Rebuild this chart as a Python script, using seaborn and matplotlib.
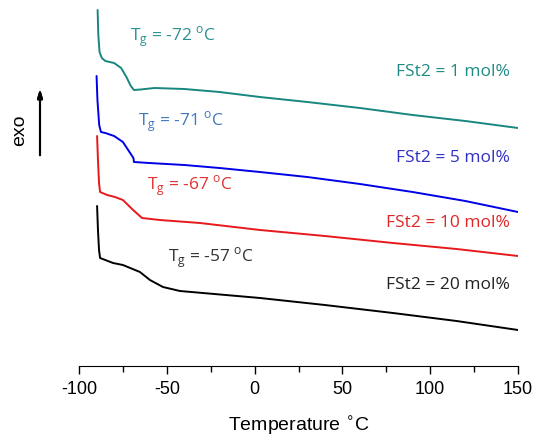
import numpy as np
import pandas as pd
import matplotlib.pyplot as plt
import seaborn as sns

# DSC traces (temperature in C, heat flow in arbitrary units, offset per sample)
t_1 = [-89.4, -89, -88.3, -87, -85, -80, -76, -73, -70.5, -68.7, -65, -57, -40, -20, 3, 30, 60, 90, 120, 150]
hf_1 = [356, 331, 314, 308, 305, 303, 298, 289, 280, 276, 276.5, 278, 277, 274, 269, 264, 258, 251, 245, 238]

t_5 = [-90, -89.5, -88.5, -87.5, -85, -80, -75, -72, -69, -68.7, -60, -40, -20, 3, 30, 60, 90, 120, 150]
hf_5 = [290, 266, 241, 234, 233, 230, 224, 216, 208, 204, 203, 201, 198, 194, 189, 182, 174, 165, 154]

t_10 = [-89.7, -89.2, -88.6, -88, -84, -79.5, -75, -69.2, -64.1, -53.9, -31.1, 3.1, 40, 78.8, 115, 150]
hf_10 = [230, 206, 183, 174, 171, 169, 166, 156, 148, 146, 143, 136, 130, 123, 117, 110]

t_20 = [-89.7, -89.2, -88.6, -88, -80.6, -75, -65.3, -59.6, -52.2, -42.5, 3.1, 40, 78.8, 115, 150]
hf_20 = [160, 136, 116, 108, 103, 101, 94, 86, 79, 75, 68, 61, 53, 45, 36]

samples = ["FSt2 = 1 mol%", "FSt2 = 5 mol%", "FSt2 = 10 mol%", "FSt2 = 20 mol%"]
tg_labels = ["-72", "-71", "-67", "-57"]
line_colors = ["#17877f", "#0000e6", "#e8191c", "#000000"]
tg_colors = ["#2a9090", "#3f78c0", "#e03232", "#333333"]
name_colors = ["#1f8a84", "#2f2fc8", "#e02525", "#222222"]

frames = []
for name, t, hf in zip(samples, [t_1, t_5, t_10, t_20], [hf_1, hf_5, hf_10, hf_20]):
    frames.append(pd.DataFrame({"T": t, "hf": hf, "sample": name}))
df = pd.concat(frames)

sns.set_style("ticks")
plt.rcParams["font.family"] = ["Liberation Sans", "DejaVu Sans"]
plt.rcParams["axes.unicode_minus"] = False
plt.rcParams["text.color"] = "black"
plt.rcParams["xtick.color"] = "black"
plt.rcParams["axes.labelcolor"] = "black"
plt.rcParams["axes.edgecolor"] = "black"

fig = plt.figure(figsize=(5.37, 4.43), dpi=100)
ax = fig.add_axes([79 / 537, 1 - 366 / 443, (518 - 79) / 537, 366 / 443])

sns.lineplot(data=df, x="T", y="hf", hue="sample", palette=line_colors,
             sort=False, estimator=None, linewidth=1.4, legend=False, ax=ax)

ax.set_xlim(-100, 150)
ax.set_ylim(0, 366)
ax.set_xticks([-100, -50, 0, 50, 100, 150])
ax.set_xticks(np.arange(-100, 151, 25), minor=True)
ax.tick_params(axis="x", which="major", length=6, width=1, labelsize=13, pad=5)
ax.tick_params(axis="x", which="minor", length=4, width=1)
ax.set_yticks([])
ax.set_ylabel("")
ax.set_xlabel("Temperature $^{\\circ}$C", fontsize=14, labelpad=12)
sns.despine(ax=ax, left=True)

# Tg annotations
tg_pos = [(-71, 329), (-66.4, 244), (-61.3, 180), (-49.3, 108)]
for (x, y), tg, c in zip(tg_pos, tg_labels, tg_colors):
    ax.text(x, y, "T$_\\mathregular{g}$ = " + tg + " $^\\mathregular{o}$C", color=c,
            fontsize=12.5, family="Open Sans", ha="left", va="center")

# sample names
name_y = [294, 208, 143, 81]
for y, name, c in zip(name_y, samples, name_colors):
    ax.text(145.4, y, name, color=c, fontsize=12.5, family="Open Sans",
            ha="right", va="center")

# exo arrow
fig.text(20 / 537, 1 - 130 / 443, "exo", rotation=90, fontsize=14,
         ha="center", va="center")
fig.add_artist(plt.annotate("", xy=(40 / 537, 1 - 86 / 443), xytext=(40 / 537, 1 - 158 / 443),
                            xycoords="figure fraction", textcoords="figure fraction",
                            arrowprops=dict(arrowstyle="-|>,head_length=0.5,head_width=0.15",
                                            color="black", lw=1.5)))

plt.savefig("out.png", dpi=100)
